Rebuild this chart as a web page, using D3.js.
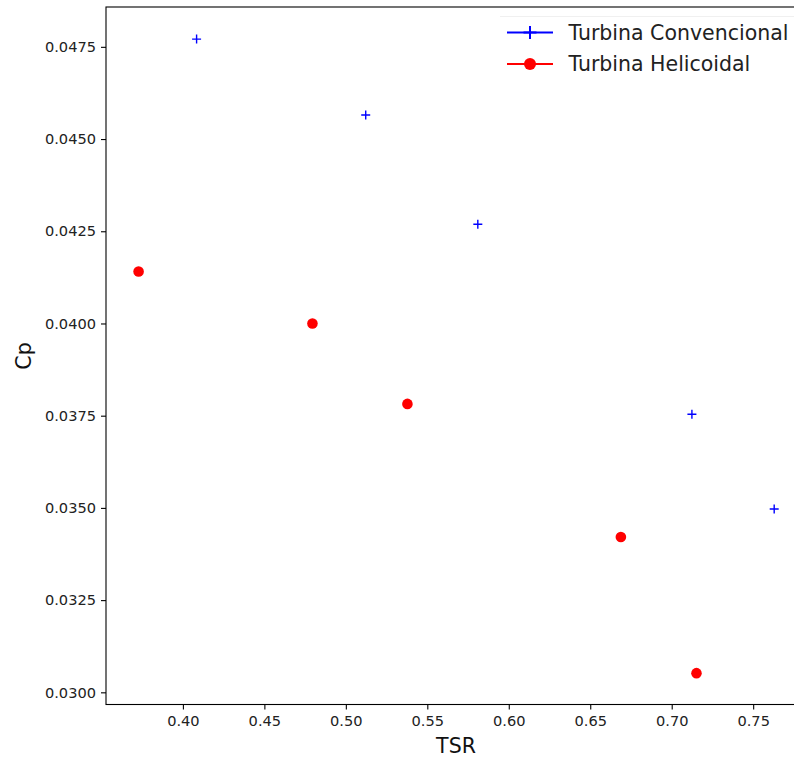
<!DOCTYPE html>
<html>
<head>
<meta charset="utf-8">
<script src="https://cdn.jsdelivr.net/npm/d3@7"></script>
<style>
  html, body { margin: 0; padding: 0; background: #fff; }
  svg { display: block; font-family: "DejaVu Sans", sans-serif; }
</style>
</head>
<body>
<svg id="chart" width="794" height="757"></svg>
<script>
// ---- data ----
const convTSR = [0.4084, 0.5122, 0.5810, 0.7124, 0.7629];
const convCp  = [0.04771, 0.04565, 0.04269, 0.03754, 0.03497];
const heliTSR = [0.3728, 0.4795, 0.5378, 0.6688, 0.7152];
const heliCp  = [0.04141, 0.04000, 0.03782, 0.03421, 0.03052];
const xTicks = [0.40, 0.45, 0.50, 0.55, 0.60, 0.65, 0.70, 0.75];
const yTicks = [0.0300, 0.0325, 0.0350, 0.0375, 0.0400, 0.0425, 0.0450, 0.0475];
const seriesNames = ["Turbina Convencional", "Turbina Helicoidal"];
const xLabel = "TSR", yLabel = "Cp";

const svg = d3.select("#chart");
const L = 106, T = 7, R = 804.5, B = 704.5;

const x = d3.scaleLinear().domain([0.3528, 0.7815]).range([L, R]);
const y = d3.scaleLinear().domain([0.02967, 0.04858]).range([B, T]);

// axes
const xAxis = svg.append("g").attr("transform", `translate(0,${B})`)
  .call(d3.axisBottom(x).tickValues(xTicks).tickFormat(d3.format(".2f")).tickSizeOuter(0).tickSize(5).tickPadding(5));
const yAxis = svg.append("g").attr("transform", `translate(${L},0)`)
  .call(d3.axisLeft(y).tickValues(yTicks).tickFormat(d3.format(".4f")).tickSizeOuter(0).tickSize(5).tickPadding(5));
[xAxis, yAxis].forEach(g => {
  g.select(".domain").remove();
  g.selectAll(".tick line").attr("stroke", "#000").attr("stroke-width", 1.1);
  g.selectAll(".tick text").attr("fill", "#222").style("font-size", "14.6px").style("font-family", "DejaVu Sans");
});
xAxis.selectAll(".tick text").attr("dy", "0.82em");

// frame
svg.append("rect").attr("x", L).attr("y", T).attr("width", R - L).attr("height", B - T)
  .attr("fill", "none").attr("stroke", "#000").attr("stroke-width", 1.1);

// axis labels
svg.append("text").attr("x", 456).attr("y", 753)
  .attr("text-anchor", "middle").style("font-size", "20.5px").attr("fill", "#111").text(xLabel);
svg.append("text").attr("transform", "translate(31,356) rotate(-90)")
  .attr("text-anchor", "middle").style("font-size", "20.5px").attr("fill", "#111").text(yLabel);

// markers
const conv = convTSR.map((d, i) => ({x: d, y: convCp[i]}));
const heli = heliTSR.map((d, i) => ({x: d, y: heliCp[i]}));

svg.append("g").selectAll("circle").data(heli).join("circle")
  .attr("cx", d => x(d.x)).attr("cy", d => y(d.y)).attr("r", 5.3).attr("fill", "#ff0000");

const plusPath = (cx, cy, s) => `M${cx - s},${cy}H${cx + s}M${cx},${cy - s}V${cy + s}`;
svg.append("g").selectAll("path").data(conv).join("path")
  .attr("d", d => plusPath(x(d.x), y(d.y), 4.5))
  .attr("stroke", "#0000ff").attr("stroke-width", 1.4).attr("fill", "none");

// legend
const lg = svg.append("g");
lg.append("line").attr("x1", 500).attr("x2", 794).attr("y1", 16.5).attr("y2", 16.5)
  .attr("stroke", "#f0f0f0").attr("stroke-width", 1);
const legRows = [
  {name: seriesNames[0], color: "#0000ff", y: 32.5, marker: "plus"},
  {name: seriesNames[1], color: "#ff0000", y: 64, marker: "circle"}
];
legRows.forEach(r => {
  lg.append("line").attr("x1", 507).attr("x2", 553).attr("y1", r.y).attr("y2", r.y)
    .attr("stroke", r.color).attr("stroke-width", 2);
  if (r.marker === "plus") {
    lg.append("path").attr("d", plusPath(530, r.y, 6.5)).attr("stroke", r.color).attr("stroke-width", 2);
  } else {
    lg.append("circle").attr("cx", 530).attr("cy", r.y).attr("r", 6).attr("fill", r.color);
  }
  lg.append("text").attr("x", 568.5).attr("y", r.y).attr("dy", "0.35em")
    .style("font-size", "20.5px").attr("fill", "#222").text(r.name);
});
</script>
</body>
</html>
